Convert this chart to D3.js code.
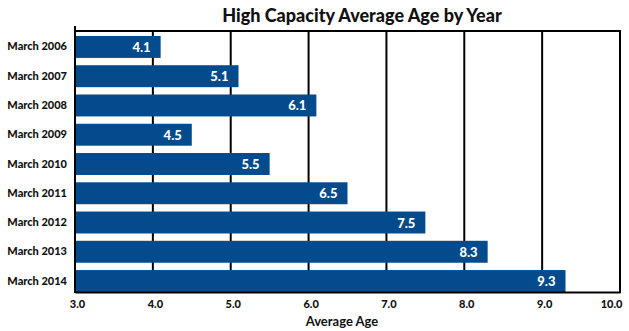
<!DOCTYPE html>
<html>
<head>
<meta charset="utf-8">
<script src="https://cdn.jsdelivr.net/npm/d3@7"></script>
<style>
  html, body { margin: 0; padding: 0; background: #fff; }
  svg { display: block; font-family: Lato, "Open Sans", sans-serif; }
</style>
</head>
<body>
<svg id="chart" width="629" height="331"></svg>
<script>
// Average age of high-capacity units, by survey year
const years = ["March 2006", "March 2007", "March 2008", "March 2009", "March 2010",
               "March 2011", "March 2012", "March 2013", "March 2014"];
const avgAge = [4.1, 5.1, 6.1, 4.5, 5.5, 6.5, 7.5, 8.3, 9.3];
const tickValues = [3, 4, 5, 6, 7, 8, 9, 10];

const svg = d3.select("#chart");
const plotLeft = 75, plotRight = 620, plotTop = 31, plotBottom = 292;
const barColor = "#034b8c";

const x = d3.scaleLinear().domain([3, 10]).range([plotLeft, plotRight]);
const y = d3.scaleBand().domain(years).range([plotTop, plotBottom])
  .paddingInner(0.25).paddingOuter(0.085).align(1);

// title
svg.append("text")
  .attr("x", 362).attr("y", 22)
  .attr("text-anchor", "middle")
  .attr("font-size", 18).attr("font-weight", 900)
  .attr("fill", "#111")
  .text("High Capacity Average Age by Year");

// vertical grid lines
svg.append("g").selectAll("line")
  .data(tickValues.slice(1, -1))
  .join("line")
  .attr("x1", d => x(d)).attr("x2", d => x(d))
  .attr("y1", plotTop).attr("y2", plotBottom)
  .attr("stroke", "#000").attr("stroke-width", 2);

// bars
svg.append("g").selectAll("rect")
  .data(avgAge)
  .join("rect")
  .attr("x", x(3))
  .attr("y", (d, i) => y(years[i]))
  .attr("width", d => x(d) - x(3))
  .attr("height", y.bandwidth())
  .attr("fill", barColor);

// value labels inside bar ends
svg.append("g").selectAll("text")
  .data(avgAge)
  .join("text")
  .attr("x", d => x(d) - 10)
  .attr("y", (d, i) => y(years[i]) + y.bandwidth() / 2 + 5)
  .attr("text-anchor", "end")
  .attr("font-size", 13).attr("font-weight", 900)
  .attr("fill", "#fff")
  .text(d => d.toFixed(1));

// frame: top and right borders
svg.append("line").attr("x1", plotLeft).attr("x2", plotRight).attr("y1", plotTop).attr("y2", plotTop)
  .attr("stroke", "#000").attr("stroke-width", 2);
svg.append("line").attr("x1", plotRight).attr("x2", plotRight).attr("y1", plotTop - 1).attr("y2", plotBottom + 1)
  .attr("stroke", "#000").attr("stroke-width", 2);

// bottom axis
const xAxis = svg.append("g")
  .attr("transform", `translate(0,${plotBottom})`)
  .call(d3.axisBottom(x).tickValues(tickValues).tickSize(0).tickPadding(8)
    .tickFormat(d3.format(".1f")));
xAxis.select(".domain").attr("stroke", "#000").attr("stroke-width", 2);
xAxis.selectAll("text").attr("font-size", 11).attr("font-weight", 900)
  .attr("fill", "#111").attr("font-family", "Lato, sans-serif")
  .attr("dx", d => d === 10 ? -9 : 2);

// left axis
const yAxis = svg.append("g")
  .attr("transform", `translate(${plotLeft},0)`)
  .call(d3.axisLeft(y).tickSize(0).tickPadding(8));
yAxis.select(".domain").remove();
svg.append("line").attr("x1", plotLeft).attr("x2", plotLeft).attr("y1", 26).attr("y2", plotBottom + 1)
  .attr("stroke", "#000").attr("stroke-width", 2);
yAxis.selectAll("text").attr("font-size", 11).attr("font-weight", 900)
  .attr("fill", "#111").attr("font-family", "Lato, sans-serif");

// axis title
svg.append("text")
  .attr("x", 342).attr("y", 326)
  .attr("text-anchor", "middle")
  .attr("font-size", 13).attr("font-weight", 700)
  .attr("fill", "#111")
  .text("Average Age");
</script>
</body>
</html>
